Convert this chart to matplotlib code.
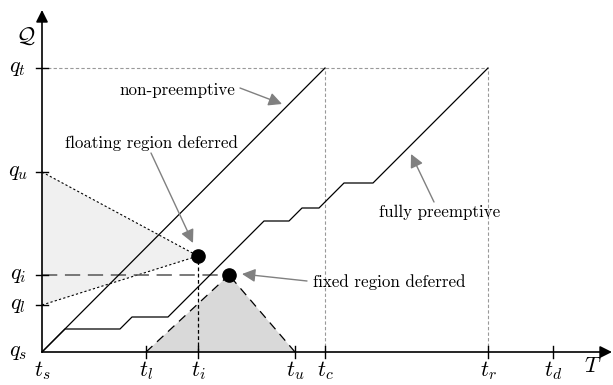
import matplotlib
matplotlib.use("Agg")
import matplotlib.pyplot as plt
from matplotlib.patches import Polygon

plt.rcParams["mathtext.fontset"] = "cm"
plt.rcParams["font.family"] = "serif"
plt.rcParams["font.serif"] = ["cmr10", "DejaVu Serif"]
plt.rcParams["axes.unicode_minus"] = False

# time axis ticks (ts at origin)
T_NAMES = ["$t_s$", "$t_l$", "$t_i$", "$t_u$", "$t_c$", "$t_r$", "$t_d$"]
T_VALUES = [0, 104, 156, 253, 283, 446, 511]

# quality axis ticks
Q_NAMES = ["$q_s$", "$q_l$", "$q_i$", "$q_u$", "$q_t$"]
Q_VALUES = [0, 47, 77, 180, 284]

# non-preemptive curve
NONPRE_T = [0, 283]
NONPRE_Q = [0, 284]

# fully preemptive curve
FULL_T = [0, 23, 78, 90, 126, 222, 247, 260, 277, 302, 331, 446]
FULL_Q = [0, 23, 23, 35, 35, 131, 131, 144, 144, 169, 169, 284]

# deferral points
FLOAT_PT = (156, 96)
FIXED_PT = (187, 77)

# annotations: text, text position, arrow tail, arrow tip
LABELS = ["non-preemptive", "floating region deferred", "fixed region deferred", "fully preemptive"]
LABEL_POS = [(135, 262), (109, 209), (347, 70), (398, 140)]
ARROW_TAIL = [(198, 264), (109, 199), (265, 71), (392, 150)]
ARROW_TIP = [(240, 248), (151, 109), (200, 78), (369, 198)]

GREY = "#808080"

fig = plt.figure(figsize=(6.13, 3.85), dpi=100)
ax = fig.add_axes([0, 0, 1, 1])
ax.set_xlim(-42, 571)
ax.set_ylim(-33, 352)
ax.axis("off")

t_s, t_l, t_i, t_u, t_c, t_r, t_d = T_VALUES
q_s, q_l, q_i, q_u, q_t = Q_VALUES

# shaded regions
ax.add_patch(Polygon([(0, q_u), FLOAT_PT, (0, q_l)], closed=True,
                     facecolor="#f0f0f0", edgecolor="none", zorder=1))
ax.add_patch(Polygon([(t_l, 0), FIXED_PT, (t_u, 0)], closed=True,
                     facecolor="#d9d9d9", edgecolor="none", zorder=1))

# floating region borders
for q in (q_u, q_l):
    ax.plot([0, FLOAT_PT[0]], [q, FLOAT_PT[1]], color="black", lw=0.8,
            ls=(0, (2, 2)), zorder=2)
ax.plot([FLOAT_PT[0], FLOAT_PT[0]], [0, FLOAT_PT[1]], color="black", lw=0.9,
        ls=(0, (3, 2)), zorder=2)

# fixed region borders
for t in (t_l, t_u):
    ax.plot([t, FIXED_PT[0]], [0, FIXED_PT[1]], color="black", lw=0.9,
            ls=(0, (7, 5)), zorder=2)
ax.plot([0, FIXED_PT[0]], [q_i, q_i], color="#555555", lw=1.1,
        ls=(0, (10, 5)), zorder=2)

# grey guides
ax.plot([0, t_r], [q_t, q_t], color="#999999", lw=0.8, ls=(0, (3, 2)), zorder=2)
for t in (t_c, t_r):
    ax.plot([t, t], [0, q_t], color="#999999", lw=0.8, ls=(0, (3, 2)), zorder=2)

# curves
ax.plot(NONPRE_T, NONPRE_Q, color="black", lw=0.9, zorder=3)
ax.plot(FULL_T, FULL_Q, color="black", lw=0.9, zorder=3)

# points
ax.plot(*FLOAT_PT, "o", color="black", ms=9.5, zorder=4)
ax.plot(*FIXED_PT, "o", color="black", ms=9.5, zorder=4)

# axes with arrows
ax.annotate("", xy=(570, 0), xytext=(0, 0),
            arrowprops=dict(arrowstyle="-|>", color="black", lw=1.2,
                            mutation_scale=18, shrinkA=0, shrinkB=0), zorder=5)
ax.annotate("", xy=(0, 342), xytext=(0, 0),
            arrowprops=dict(arrowstyle="-|>", color="black", lw=1.2,
                            mutation_scale=18, shrinkA=0, shrinkB=0), zorder=5)

for name, t in zip(T_NAMES, T_VALUES):
    if t > 0:
        ax.plot([t, t], [-6, 6], color="black", lw=1.0, zorder=5)
    ax.text(t, -19, name, ha="center", va="center", fontsize=16)
for name, q in zip(Q_NAMES, Q_VALUES):
    if q > 0:
        ax.plot([-6, 6], [q, q], color="black", lw=1.0, zorder=5)
    ax.text(-24, q, name, ha="center", va="center", fontsize=16)

ax.text(551, -14, "$T$", ha="center", va="center", fontsize=16)
ax.text(-16, 316, r"$\mathcal{Q}$", ha="center", va="center", fontsize=16)

for label, pos, tail, tip in zip(LABELS, LABEL_POS, ARROW_TAIL, ARROW_TIP):
    ax.text(pos[0], pos[1], label, ha="center", va="center", fontsize=12.2)
    ax.annotate("", xy=tip, xytext=tail,
                arrowprops=dict(arrowstyle="-|>", color=GREY, lw=1.0,
                                mutation_scale=20, shrinkA=0, shrinkB=0), zorder=4)

fig.savefig("out.png", dpi=100)
